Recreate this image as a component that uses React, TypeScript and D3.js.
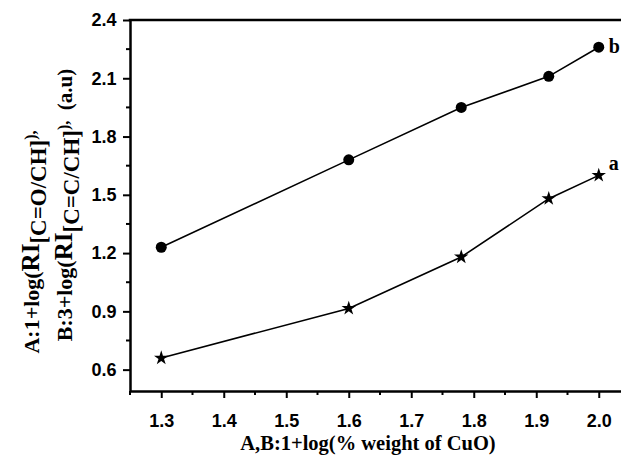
import React, { useEffect, useRef } from 'react';
import * as d3 from 'd3';

const width = 621;
const height = 457;
const margin = { top: 20, right: -9, bottom: 66, left: 130 };

const xValues = [1.3, 1.6, 1.78, 1.92, 2.0];
const seriesA = [0.66, 0.915, 1.18, 1.48, 1.6];
const seriesB = [1.23, 1.68, 1.95, 2.11, 2.26];
const xTicks = [1.3, 1.4, 1.5, 1.6, 1.7, 1.8, 1.9, 2.0];
const yTicks = [0.6, 0.9, 1.2, 1.5, 1.8, 2.1, 2.4];

const sans = '"Liberation Sans", Arial, sans-serif';
const serif = '"Liberation Serif", "Times New Roman", serif';

export default function App() {
  const ref = useRef<SVGSVGElement>(null);

  useEffect(() => {
    const svg = d3.select(ref.current);
    svg.selectAll('*').remove();

    const x = d3.scaleLinear().domain([1.25, 2.05]).range([margin.left, width - margin.right]);
    const y = d3.scaleLinear().domain([0.49, 2.4]).range([height - margin.bottom, margin.top]);
    const x0 = margin.left;
    const y0 = height - margin.bottom;

    // minor ticks
    const xMinor = d3.range(1.25, 2.06, 0.1).map(v => +v.toFixed(2));
    svg.append('g').selectAll('line').data(xMinor).join('line')
      .attr('x1', d => x(d)).attr('x2', d => x(d))
      .attr('y1', y0).attr('y2', y0 + 4)
      .attr('stroke', '#000').attr('stroke-width', 2);
    const yMinor = [0.75, 1.05, 1.35, 1.65, 1.95, 2.25];
    svg.append('g').selectAll('line').data(yMinor).join('line')
      .attr('x1', x0).attr('x2', x0 - 4)
      .attr('y1', d => y(d)).attr('y2', d => y(d))
      .attr('stroke', '#000').attr('stroke-width', 2);

    const xAxis = svg.append('g').attr('transform', `translate(0,${y0})`)
      .call(d3.axisBottom(x).tickValues(xTicks).tickFormat(d3.format('.1f')).tickSize(7).tickSizeOuter(0));
    const yAxis = svg.append('g').attr('transform', `translate(${x0},0)`)
      .call(d3.axisLeft(y).tickValues(yTicks).tickFormat(d3.format('.1f')).tickSize(7).tickSizeOuter(0));
    [xAxis, yAxis].forEach(a => {
      a.select('.domain').attr('stroke-width', 2.5);
      a.selectAll('.tick line').attr('stroke-width', 2);
      a.selectAll('.tick text').attr('font-family', sans).attr('font-weight', 'bold').attr('font-size', 18).attr('fill', '#000');
    });
    xAxis.selectAll('.tick text').attr('dy', '1.45em');
    yAxis.selectAll('.tick text').attr('dx', '-0.2em');

    // top frame line
    svg.append('line').attr('x1', x0 - 1.25).attr('x2', width).attr('y1', margin.top).attr('y2', margin.top)
      .attr('stroke', '#000').attr('stroke-width', 2.5);

    const line = d3.line<number>().x((_, i) => x(xValues[i])).y(d => y(d));
    [seriesA, seriesB].forEach(s => {
      svg.append('path').datum(s).attr('d', line).attr('fill', 'none')
        .attr('stroke', '#000').attr('stroke-width', 1.6);
    });

    svg.append('g').selectAll('circle').data(seriesB).join('circle')
      .attr('cx', (_, i) => x(xValues[i])).attr('cy', d => y(d)).attr('r', 5.5).attr('fill', '#000');
    const star = d3.symbol().type(d3.symbolStar).size(65);
    svg.append('g').selectAll('path').data(seriesA).join('path')
      .attr('d', star)
      .attr('transform', (d, i) => `translate(${x(xValues[i])},${y(d)})`)
      .attr('fill', '#000');

    const last = xValues.length - 1;
    svg.append('text').attr('x', x(xValues[last]) + 10).attr('y', y(seriesB[last]) + 6)
      .attr('font-family', serif).attr('font-weight', 'bold').attr('font-size', 20).text('b');
    svg.append('text').attr('x', x(xValues[last]) + 10).attr('y', y(seriesA[last]) - 5)
      .attr('font-family', serif).attr('font-weight', 'bold').attr('font-size', 20).text('a');

    svg.append('text').attr('x', 368).attr('y', 450).attr('text-anchor', 'middle')
      .attr('font-family', serif).attr('font-weight', 'bold').attr('font-size', 20.5)
      .text('A,B:1+log(% weight of CuO)');

    const addTitle = (xp: number, yc: number, parts: [string, number, number][]) => {
      const t = svg.append('text').attr('transform', `translate(${xp},${yc}) rotate(-90)`)
        .attr('text-anchor', 'middle').attr('font-family', serif).attr('font-weight', 'bold');
      parts.forEach(([txt, size, dy]) => {
        t.append('tspan').attr('font-size', size).attr('dy', dy).text(txt);
      });
    };
    addTitle(39, 242, [['A:1+log(', 22, 0], ['RI', 25, 0], ['[C=O/CH]', 23, 7], ['),', 16, -10]]);
    addTitle(72, 205, [['B:3+log(', 22, 0], ['RI', 25, 0], ['[C=C/CH]', 23, 7], ['),', 16, -10], ['\u00a0\u00a0(a.u)', 21, 3]]);
  }, []);

  return <svg ref={ref} width={width} height={height} style={{ position: 'absolute', left: 0, top: 0, background: '#fff' }} />;
}
